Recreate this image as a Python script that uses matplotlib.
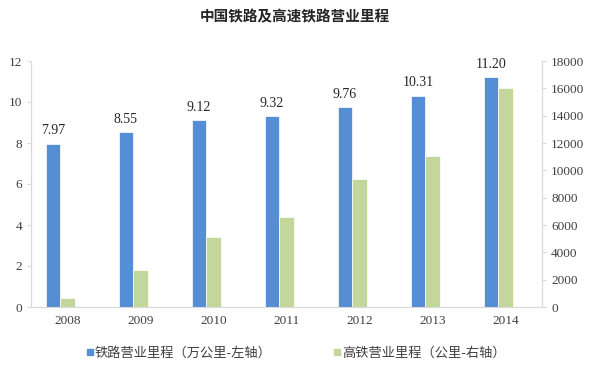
import matplotlib
matplotlib.use("Agg")
import matplotlib.pyplot as plt
import numpy as np

# 中国铁路及高速铁路营业里程
years = ["2008", "2009", "2010", "2011", "2012", "2013", "2014"]
rail_km = [7.97, 8.55, 9.12, 9.32, 9.76, 10.31, 11.20]       # 万公里, left axis
hsr_km = [672, 2699, 5133, 6601, 9356, 11028, 16000]         # 公里, right axis

blue = "#558ED5"
green = "#C3D69B"
axis_gray = "#D9D9D9"
text_gray = "#404040"
cjk = ["Noto Sans CJK SC", "DejaVu Sans"]
serif = ["Liberation Serif", "DejaVu Serif"]

fig = plt.figure(figsize=(5.9, 3.69), dpi=100)
ax = fig.add_axes([31 / 590, 62 / 369, 511 / 590, 246 / 369])
ax2 = ax.twinx()

x = np.arange(len(years))
w = 0.2
ax.bar(x - w, rail_km, width=w, color=blue, edgecolor="white", linewidth=0.5, zorder=3)
ax2.bar(x, hsr_km, width=w, color=green, edgecolor="white", linewidth=0.5, zorder=3)

for xi, v in zip(x, rail_km):
    ax.text(xi - w, v + 0.3, f"{v:.2f}", ha="center", va="bottom",
            fontsize=10, family=serif, color="#262626")

ax.set_xlim(-0.5, len(years) - 0.5)
ax.set_ylim(0, 12)
ax.set_yticks(range(0, 13, 2))
ax2.set_ylim(0, 18000)
ax2.set_yticks(range(0, 18001, 2000))
ax.set_xticks(x)
ax.set_xticklabels(years)

for a in (ax, ax2):
    for s in a.spines.values():
        s.set_color(axis_gray)
    a.spines["top"].set_visible(False)
    a.tick_params(colors=axis_gray, labelcolor=text_gray, labelsize=9.5, length=3)
    for lbl in a.get_xticklabels() + a.get_yticklabels():
        lbl.set_family(serif)
ax.tick_params(axis="x", length=0, pad=6)

fig.text(0.5, 0.955, "中国铁路及高速铁路营业里程", ha="center", va="center",
         fontsize=10.5, family=cjk, fontweight="bold", color="#262626")

handles = [plt.Line2D([], [], marker="s", linestyle="", color=blue, markersize=5),
           plt.Line2D([], [], marker="s", linestyle="", color=green, markersize=5)]
labels = ["铁路营业里程（万公里-左轴）", "高铁营业里程（公里-右轴）"]
leg = fig.legend(handles, labels, loc="center", bbox_to_anchor=(0.5, 0.043), ncol=2,
                 frameon=False, prop={"family": cjk, "size": 9.5},
                 handletextpad=0.0, columnspacing=4.5, handlelength=0.8)
for t in leg.get_texts():
    t.set_color(text_gray)

fig.savefig("out.png", dpi=100)
